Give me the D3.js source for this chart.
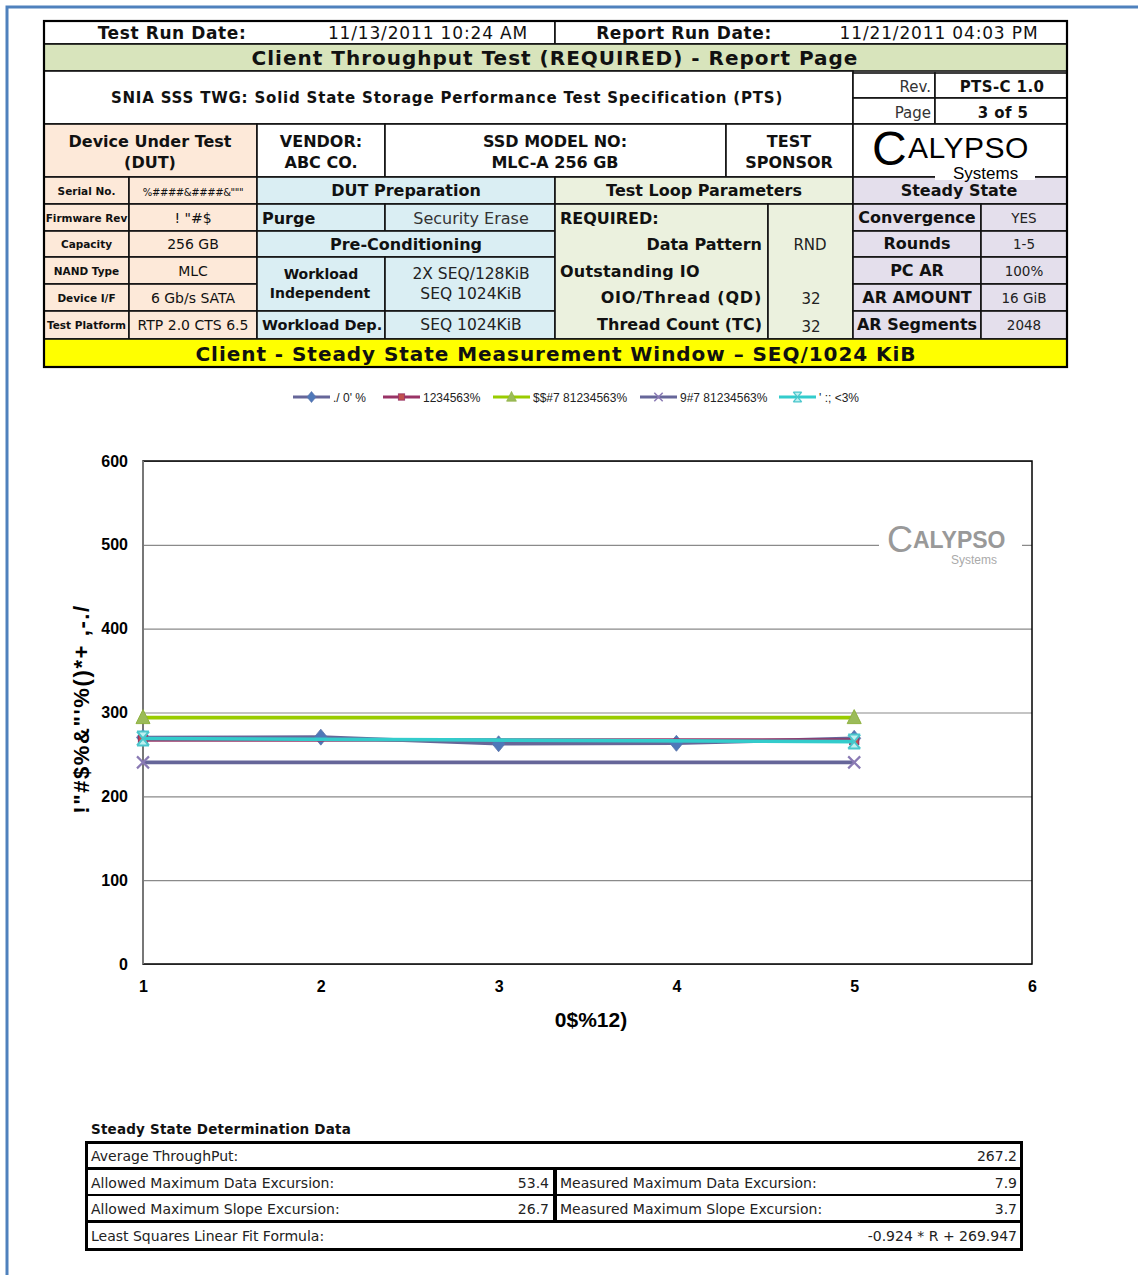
<!DOCTYPE html>
<html><head><meta charset="utf-8">
<script src="https://cdn.jsdelivr.net/npm/d3@7"></script>
<style>body{margin:0;background:#fff}svg{display:block}</style>
</head><body><svg id="c" width="1138" height="1275"></svg>
<script>
// ---------- data ----------
const rounds = [1, 2, 3, 4, 5];
const throughput = [270.2, 270.6, 262.7, 263.3, 269.2];
const endRounds = [1, 5];
const average = [267.2, 267.2];
const avg110 = [293.9, 293.9];
const avg90 = [240.5, 240.5];
const slopeFit = [269.0, 265.3];
const seriesNames = ["./ 0' %", "1234563%", "$$#7 81234563%", "9#7 81234563%", "' :; <3%"];
const yTicks = [0, 100, 200, 300, 400, 500, 600];
const xTicks = [1, 2, 3, 4, 5, 6];
const yTitle = "!\"#$%&\"'%()*+ ,-./";
const xTitle = "0$%12)";

const dutLabels = ["Serial No.", "Firmware Rev", "Capacity", "NAND Type", "Device I/F", "Test Platform"];
const dutValues = ["%####&####&\"\"\"", "! \"#$", "256 GB", "MLC", "6 Gb/s SATA", "RTP 2.0 CTS 6.5"];
const ssLabels = ["Convergence", "Rounds", "PC AR", "AR AMOUNT", "AR Segments"];
const ssValues = ["YES", "1-5", "100%", "16 GiB", "2048"];
const ssdLeft = [["Allowed Maximum Data Excursion:", "53.4"], ["Allowed Maximum Slope Excursion:", "26.7"]];
const ssdRight = [["Measured Maximum Data Excursion:", "7.9"], ["Measured Maximum Slope Excursion:", "3.7"]];

const svg = d3.select("#c");
const F = "DejaVu Sans";

// blue page frame
svg.append("path").attr("d", "M7,1275 L7,7 L1138,7").attr("fill", "none").attr("stroke", "#4f81bd").attr("stroke-width", 3);

// ---------- header table ----------
const T = svg.append("g");
function cell(x0, y0, x1, y1, fill) {
  T.append("rect").attr("x", x0).attr("y", y0).attr("width", x1 - x0).attr("height", y1 - y0)
    .attr("fill", fill || "#fff").attr("stroke", "#111").attr("stroke-width", 1.6);
}
function txt(x, y, s, o = {}) {
  return T.append("text").attr("x", x).attr("y", y).attr("text-anchor", o.a || "middle")
    .attr("font-family", o.f || F).attr("font-size", o.s || 15).attr("font-weight", o.b ? "bold" : "normal")
    .attr("fill", o.c || "#111").attr("letter-spacing", o.ls || 0).text(s);
}
const peach = "#fde9d9", blue = "#daeef3", green = "#d8e4bc", green2 = "#ebf1de", lav = "#e4dfec", yellow = "#ffff00";

cell(44, 21, 555, 44); cell(555, 21, 1067, 44);
txt(172, 39, "Test Run Date:", { b: 1, s: 17, ls: 0.6 });
txt(428, 39, "11/13/2011 10:24 AM", { s: 17, ls: 0.85 });
txt(684, 39, "Report Run Date:", { b: 1, s: 17, ls: 0.6 });
txt(939, 39, "11/21/2011 04:03 PM", { s: 17, ls: 0.85 });

cell(44, 44, 1067, 71, green);
txt(555, 65, "Client Throughput Test (REQUIRED) - Report Page", { b: 1, s: 20, ls: 1 });

cell(44, 71, 853, 124);
txt(447, 103, "SNIA SSS TWG:  Solid State Storage Performance Test Specification (PTS)", { b: 1, s: 15, ls: 0.8 });
cell(853, 73, 935, 98); cell(935, 73, 1067, 98); cell(853, 98, 935, 124); cell(935, 98, 1067, 124);
txt(931, 92, "Rev.", { a: "end", s: 15, c: "#333" });
txt(1002, 92, "PTS-C 1.0", { b: 1, s: 15, ls: 0.4 });
txt(931, 118, "Page", { a: "end", s: 15, c: "#333" });
txt(1003, 118, "3 of 5", { b: 1, s: 15, ls: 0.4 });

cell(44, 124, 257, 177, peach);
txt(150, 147, "Device Under Test", { b: 1, s: 16 });
txt(150, 168, "(DUT)", { b: 1, s: 16 });
cell(257, 124, 385, 177);
txt(321, 147, "VENDOR:", { b: 1, s: 16 });
txt(321, 168, "ABC CO.", { b: 1, s: 16 });
cell(385, 124, 726, 177);
txt(555, 147, "SSD MODEL NO:", { b: 1, s: 16 });
txt(555, 168, "MLC-A 256 GB", { b: 1, s: 16 });
cell(726, 124, 853, 177);
txt(789, 147, "TEST", { b: 1, s: 16 });
txt(789, 168, "SPONSOR", { b: 1, s: 16 });
cell(853, 124, 1067, 177);

const rowY = [177, 204, 231, 257, 284, 311, 339];
dutLabels.forEach((l, i) => {
  cell(44, rowY[i], 129, rowY[i + 1], peach);
  cell(129, rowY[i], 257, rowY[i + 1], peach);
  const mid = (rowY[i] + rowY[i + 1]) / 2;
  txt(86.5, mid + 4, l, { b: 1, s: 10.5 });
  txt(193, mid + 5, dutValues[i], i === 0 ? { s: 10, ls: -0.4 } : { s: 14 });
});

// DUT preparation
cell(257, 177, 555, 204, blue); txt(406, 196, "DUT Preparation", { b: 1, s: 16 });
cell(257, 204, 385, 231, blue); txt(262, 224, "Purge", { a: "start", b: 1, s: 16 });
cell(385, 204, 555, 231, blue); txt(471, 224, "Security Erase", { s: 16, c: "#333" });
cell(257, 231, 555, 257, blue); txt(406, 250, "Pre-Conditioning", { b: 1, s: 16 });
cell(257, 257, 385, 311, blue);
txt(321, 279, "Workload", { b: 1, s: 14 }); txt(320, 298, "Independent", { b: 1, s: 14 });
cell(385, 257, 555, 311, blue);
txt(471, 279, "2X SEQ/128KiB", { s: 15.5, c: "#222" }); txt(471, 299, "SEQ 1024KiB", { s: 15.5, c: "#222" });
cell(257, 311, 385, 339, blue); txt(262, 330, "Workload Dep.", { a: "start", b: 1, s: 14.5 });
cell(385, 311, 555, 339, blue); txt(471, 330, "SEQ 1024KiB", { s: 15.5, c: "#222" });

// Test loop parameters
cell(555, 177, 853, 204, green2); txt(704, 196, "Test Loop Parameters", { b: 1, s: 16 });
cell(555, 204, 768, 339, green2); cell(768, 204, 853, 339, green2);
txt(560, 224, "REQUIRED:", { a: "start", b: 1, s: 16 });
txt(762, 250, "Data Pattern", { a: "end", b: 1, s: 16 });
txt(560, 277, "Outstanding IO", { a: "start", b: 1, s: 16, ls: 0.2 });
txt(762, 303, "OIO/Thread (QD)", { a: "end", b: 1, s: 16, ls: 0.8 });
txt(762, 330, "Thread Count (TC)", { a: "end", b: 1, s: 16 });
txt(810, 250, "RND", { s: 15, c: "#222" });
txt(811, 304, "32", { s: 15, c: "#222" });
txt(811, 332, "32", { s: 15, c: "#222" });

// Steady state
cell(853, 177, 1067, 204, lav); txt(959, 196, "Steady State", { b: 1, s: 16 });
ssLabels.forEach((l, i) => {
  const y0 = rowY[i + 1], y1 = rowY[i + 2];
  cell(853, y0, 981, y1, lav); cell(981, y0, 1067, y1, lav);
  const mid = (y0 + y1) / 2;
  txt(917, mid + 5, l, { b: 1, s: 16 });
  txt(1024, mid + 5, ssValues[i], { s: 13.5, c: "#222" });
});

cell(44, 339, 1067, 367, yellow);
txt(556, 361, "Client - Steady State Measurement Window \u2013 SEQ/1024 KiB", { b: 1, s: 20, ls: 0.95 });

T.append("rect").attr("x", 44).attr("y", 21).attr("width", 1023).attr("height", 346)
  .attr("fill", "none").attr("stroke", "#000").attr("stroke-width", 2.2);

// header logo
T.append("rect").attr("x", 935).attr("y", 161).attr("width", 100).attr("height", 19).attr("fill", "#fff");
txt(872, 165, "C", { a: "start", f: "Liberation Sans", s: 48, c: "#000" });
txt(908, 158, "ALYPSO", { a: "start", f: "Liberation Sans", s: 30, c: "#000", ls: 0.5 });
txt(953, 179, "Systems", { a: "start", f: "Liberation Sans", s: 17, c: "#000" });

// ---------- chart ----------
const x = d3.scaleLinear().domain([1, 6]).range([143, 1032]);
const y = d3.scaleLinear().domain([0, 600]).range([964, 461]);
const C = svg.append("g");

const ya = C.append("g").attr("transform", "translate(143,0)")
  .call(d3.axisLeft(y).tickValues(yTicks).tickFormat(d3.format("d")).tickSize(-(1032 - 143)).tickPadding(15));
ya.select(".domain").remove();
ya.selectAll("line").attr("stroke", "#8a8a8a").attr("stroke-width", 1.2);
ya.selectAll("text").attr("font-family", "Liberation Sans").attr("font-size", 16).attr("font-weight", "bold").attr("fill", "#000");

const xa = C.append("g").attr("transform", "translate(0,964)")
  .call(d3.axisBottom(x).tickValues(xTicks).tickFormat(d3.format("d")).tickSize(0).tickPadding(17));
xa.select(".domain").remove();
xa.selectAll("text").attr("font-family", "Liberation Sans").attr("font-size", 16).attr("font-weight", "bold").attr("fill", "#000");

C.append("rect").attr("x", 143).attr("y", 461).attr("width", 1032 - 143).attr("height", 964 - 461)
  .attr("fill", "none").attr("stroke", "#000").attr("stroke-width", 1.5);
C.append("line").attr("x1", 143).attr("x2", 143).attr("y1", 461).attr("y2", 964).attr("stroke", "#777").attr("stroke-width", 2);

// chart watermark logo
C.append("rect").attr("x", 879).attr("y", 522).attr("width", 143).attr("height", 45).attr("fill", "#fff");
C.append("text").attr("x", 887).attr("y", 552).attr("font-family", "Liberation Sans").attr("font-size", 36).attr("fill", "#999").text("C");
C.append("text").attr("x", 913).attr("y", 548).attr("font-family", "Liberation Sans").attr("font-weight", "bold").attr("font-size", 23).attr("fill", "#999").text("ALYPSO");
C.append("text").attr("x", 951).attr("y", 564).attr("font-family", "Liberation Sans").attr("font-size", 12).attr("fill", "#aaa").text("Systems");

// titles
C.append("text").attr("transform", "translate(89,709) rotate(-90)").attr("text-anchor", "middle")
  .attr("font-family", "Liberation Sans").attr("font-weight", "bold").attr("font-size", 22).attr("letter-spacing", 1.6).attr("fill", "#000").text(yTitle);
C.append("text").attr("x", 591).attr("y", 1027).attr("text-anchor", "middle")
  .attr("font-family", "Liberation Sans").attr("font-weight", "bold").attr("font-size", 21).attr("fill", "#000").text(xTitle);

// marker drawers
function mDiamond(g) { g.append("path").attr("d", "M0,-8 L6.5,0 L0,8 L-6.5,0 Z").attr("fill", "#4f78b8").attr("stroke", "#5a72a8").attr("stroke-width", 0.8); }
function mSquare(g) { g.append("rect").attr("x", -4.5).attr("y", -4.5).attr("width", 9).attr("height", 9).attr("fill", "#c0504d").attr("stroke", "#993366").attr("stroke-width", 1.2); }
function mTri(g) { g.append("path").attr("d", "M0,-8 L7,6 L-7,6 Z").attr("fill", "#9bbb59").attr("stroke", "#8fb240").attr("stroke-width", 1); }
function mX(g) { g.append("path").attr("d", "M-6,-6 L6,6 M6,-6 L-6,6").attr("stroke", "#8a7ab4").attr("stroke-width", 2.2).attr("fill", "none"); }
function mStar(g) {
  g.append("path").attr("d", "M-6,-7 L6,-7 L-6,7 L6,7 Z").attr("fill", "#bff0f0").attr("stroke", "none");
  g.append("path").attr("d", "M-6,-7 L6,7 M6,-7 L-6,7 M-6,-7 L6,-7 M-6,7 L6,7").attr("stroke", "#4bc6cc").attr("stroke-width", 2).attr("fill", "none");
}

const series = [
  { name: seriesNames[0], xs: rounds, ys: throughput, color: "#666699", marker: mDiamond },
  { name: seriesNames[1], xs: endRounds, ys: average, color: "#993366", marker: mSquare },
  { name: seriesNames[2], xs: endRounds, ys: avg110, color: "#99cc00", marker: mTri },
  { name: seriesNames[3], xs: endRounds, ys: avg90, color: "#666699", marker: mX },
  { name: seriesNames[4], xs: endRounds, ys: slopeFit, color: "#33cccc", marker: mStar }
];
const line = d3.line().x(d => x(d[0])).y(d => y(d[1]));
series.forEach(s => {
  const pts = s.xs.map((r, i) => [r, s.ys[i]]);
  C.append("path").attr("d", line(pts)).attr("fill", "none").attr("stroke", s.color).attr("stroke-width", 3.6);
  pts.forEach(p => s.marker(C.append("g").attr("transform", `translate(${x(p[0])},${y(p[1])})`)));
});

// legend
const legX = [293, 383, 493, 640, 779];
series.forEach((s, i) => {
  const g = svg.append("g").attr("transform", `translate(${legX[i]},397)`);
  g.append("line").attr("x1", 0).attr("x2", 37).attr("stroke", s.color).attr("stroke-width", 3);
  const mg = g.append("g").attr("transform", "translate(18.5,0) scale(0.7)");
  s.marker(mg);
  g.append("text").attr("x", 40).attr("y", 4.5).attr("font-family", "Liberation Sans").attr("font-size", 12).attr("fill", "#222").text(s.name);
});

// ---------- steady state determination table ----------
const B = svg.append("g");
B.append("text").attr("x", 91).attr("y", 1134).attr("font-family", F).attr("font-weight", "bold").attr("font-size", 13.5).attr("letter-spacing", 0.2).attr("fill", "#111").text("Steady State Determination Data");
B.append("rect").attr("x", 85).attr("y", 1141).attr("width", 938).attr("height", 110).attr("fill", "#000");
function bcell(x0, y0, x1, y1) { B.append("rect").attr("x", x0).attr("y", y0).attr("width", x1 - x0).attr("height", y1 - y0).attr("fill", "#fff"); }
function btxt(xx, yy, s, a) { B.append("text").attr("x", xx).attr("y", yy).attr("text-anchor", a).attr("font-family", F).attr("font-size", 14).attr("fill", "#222").text(s); }
bcell(88, 1144, 1020, 1167);
btxt(91, 1161, "Average ThroughPut:", "start"); btxt(1017, 1161, "267.2", "end");
const rowsB = [[1170, 1194, 1188], [1196, 1220, 1214]];
rowsB.forEach((r, i) => {
  bcell(88, r[0], 553, r[1]); bcell(557, r[0], 1020, r[1]);
  btxt(91, r[2], ssdLeft[i][0], "start"); btxt(549, r[2], ssdLeft[i][1], "end");
  btxt(560, r[2], ssdRight[i][0], "start"); btxt(1017, r[2], ssdRight[i][1], "end");
});
bcell(88, 1223, 1020, 1248);
btxt(91, 1241, "Least Squares Linear Fit Formula:", "start"); btxt(1017, 1241, "-0.924 * R + 269.947", "end");
</script>
</body></html>
